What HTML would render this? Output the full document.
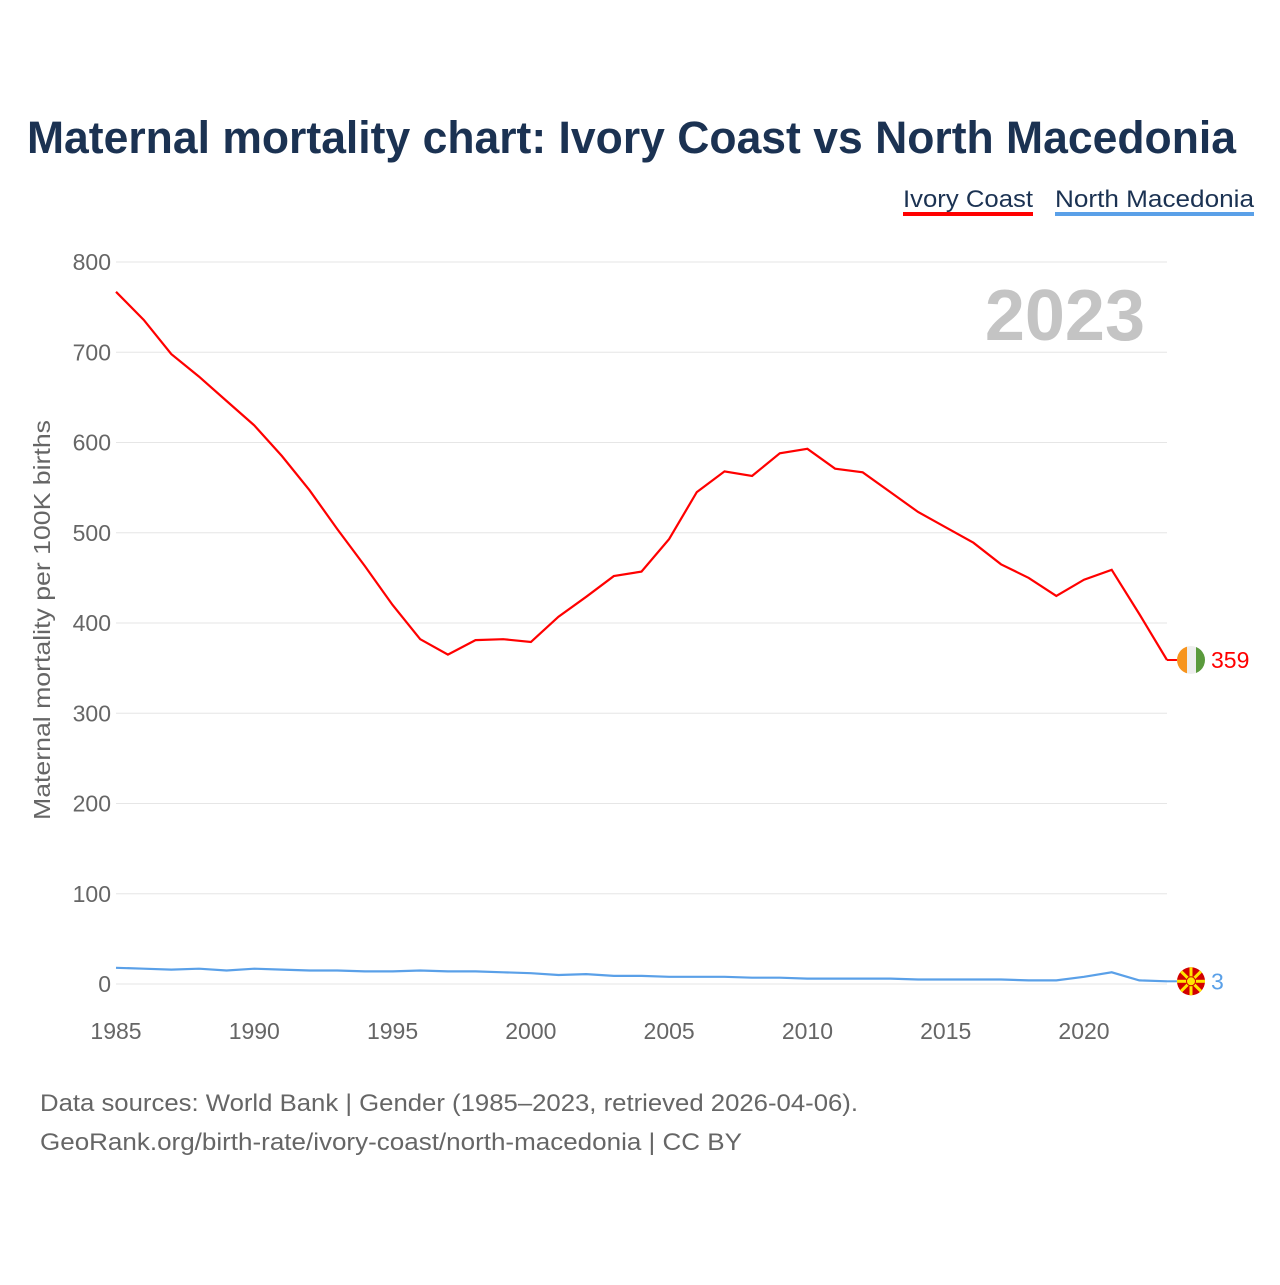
<!DOCTYPE html>
<html><head><meta charset="utf-8">
<style>
body{margin:0;background:#fff;font-family:"Liberation Sans",sans-serif;}
svg text{font-family:"Liberation Sans",sans-serif;}
</style></head>
<body>
<svg width="1280" height="1280" viewBox="0 0 1280 1280" xmlns="http://www.w3.org/2000/svg">
<text x="27" y="153" font-size="45" font-weight="bold" fill="#1b3252" textLength="1209" lengthAdjust="spacingAndGlyphs">Maternal mortality chart: Ivory Coast vs North Macedonia</text>
<g>
<text x="903" y="207" font-size="24" fill="#1b3252" textLength="130" lengthAdjust="spacingAndGlyphs">Ivory Coast</text>
<rect x="903" y="212" width="130" height="4" fill="#ff0000"/></g>
<g>
<text x="1055" y="207" font-size="24" fill="#1b3252" textLength="199" lengthAdjust="spacingAndGlyphs">North Macedonia</text>
<rect x="1055" y="212" width="199" height="4" fill="#5aa0e8"/></g>
<text x="1145" y="340" text-anchor="end" font-size="72" font-weight="bold" fill="#c4c4c4">2023</text>
<g id="grid"></g><g id="xt"></g>
<text transform="translate(50,820) rotate(-90)" font-size="23" fill="#666" textLength="400" lengthAdjust="spacingAndGlyphs">Maternal mortality per 100K births</text>
<path id="ic" fill="none" stroke="#ff0000" stroke-width="2.2"/>
<path id="nm" fill="none" stroke="#5aa0e8" stroke-width="2.2"/>
<g id="ends"></g>
<text x="40" y="1111" font-size="24" fill="#666" textLength="818" lengthAdjust="spacingAndGlyphs">Data sources: World Bank | Gender (1985–2023, retrieved 2026-04-06).</text>
<text x="40" y="1150" font-size="24" fill="#666" textLength="702" lengthAdjust="spacingAndGlyphs">GeoRank.org/birth-rate/ivory-coast/north-macedonia | CC BY</text>
</svg>
<script>
const years=[];for(let y=1985;y<=2023;y++)years.push(y);
const ivoryCoast=[767,736,698,673,646,619,585,547,504,463,420,382,365,381,382,379,407,429,452,457,493,545,568,563,588,593,571,567,545,523,506,489,465,450,430,448,459,410,359];
const northMacedonia=[18,17,16,17,15,17,16,15,15,14,14,15,14,14,13,12,10,11,9,9,8,8,8,7,7,6,6,6,6,5,5,5,5,4,4,8,13,4,3];
const yTicks=[0,100,200,300,400,500,600,700,800];
const xTicks=[1985,1990,1995,2000,2005,2010,2015,2020];
const NS="http://www.w3.org/2000/svg";
const X=y=>116+(y-1985)*27.657, Y=v=>984-v*0.9025;
const g=document.getElementById('grid');
yTicks.forEach(t=>{
 const l=document.createElementNS(NS,'line');
 l.setAttribute('x1',116);l.setAttribute('x2',1167);l.setAttribute('y1',Y(t));l.setAttribute('y2',Y(t));
 l.setAttribute('stroke','#e6e6e6');
 
 
 g.appendChild(l);
 const tx=document.createElementNS(NS,'text');
 tx.setAttribute('x',111);tx.setAttribute('y',Y(t)+8);tx.setAttribute('text-anchor','end');
 tx.setAttribute('font-size','23');tx.setAttribute('fill','#666');tx.textContent=t;
 
 
 g.appendChild(tx);
});
const xt=document.getElementById('xt');
xTicks.forEach(t=>{
 const tx=document.createElementNS(NS,'text');
 tx.setAttribute('x',X(t));tx.setAttribute('y',1039);tx.setAttribute('text-anchor','middle');
 tx.setAttribute('font-size','23');tx.setAttribute('fill','#666');tx.textContent=t;
 
 
 xt.appendChild(tx);
});
const path=a=>a.map((v,i)=>(i?'L':'M')+X(years[i]).toFixed(1)+','+Y(v).toFixed(1)).join('');
document.getElementById('ic').setAttribute('d',path(ivoryCoast));
document.getElementById('nm').setAttribute('d',path(northMacedonia));
const ends=document.getElementById('ends');
function endLabel(v,color,name,flag){
 const y=Y(v), x=X(2023);
 const l=document.createElementNS(NS,'line');
 l.setAttribute('x1',x);l.setAttribute('x2',x+10);l.setAttribute('y1',y);l.setAttribute('y2',y);l.setAttribute('stroke',color);l.setAttribute('stroke-width','2');
 
 
 ends.appendChild(l);
 const fg=document.createElementNS(NS,'g');
 fg.innerHTML=flag(1191,y);
 
 
 ends.appendChild(fg);
 const t=document.createElementNS(NS,'text');
 t.setAttribute('x',1211);t.setAttribute('y',y+8);t.setAttribute('font-size','23');t.setAttribute('fill',color);t.textContent=v;
 
 
 ends.appendChild(t);
}
endLabel(ivoryCoast[38],'#ff0000','ivory-coast',(cx,cy)=>`<clipPath id="c1"><circle cx="${cx}" cy="${cy}" r="14"/></clipPath><g clip-path="url(#c1)"><rect x="${cx-14}" y="${cy-14}" width="10" height="28" fill="#f7941d"/><rect x="${cx-4}" y="${cy-14}" width="9" height="28" fill="#eee"/><rect x="${cx+5}" y="${cy-14}" width="10" height="28" fill="#5a9a3c"/></g>`);
endLabel(northMacedonia[38],'#5aa0e8','north-macedonia',(cx,cy)=>{let s=`<circle cx="${cx}" cy="${cy}" r="14" fill="#d20000"/>`;for(let i=0;i<8;i++){const a=i*Math.PI/4;s+=`<line x1="${cx}" y1="${cy}" x2="${cx+14*Math.cos(a)}" y2="${cy+14*Math.sin(a)}" stroke="#ffe600" stroke-width="3"/>`;}return s+`<circle cx="${cx}" cy="${cy}" r="4.5" fill="#ffe600" stroke="#d20000" stroke-width="1"/>`;});
</script>
</body></html>
